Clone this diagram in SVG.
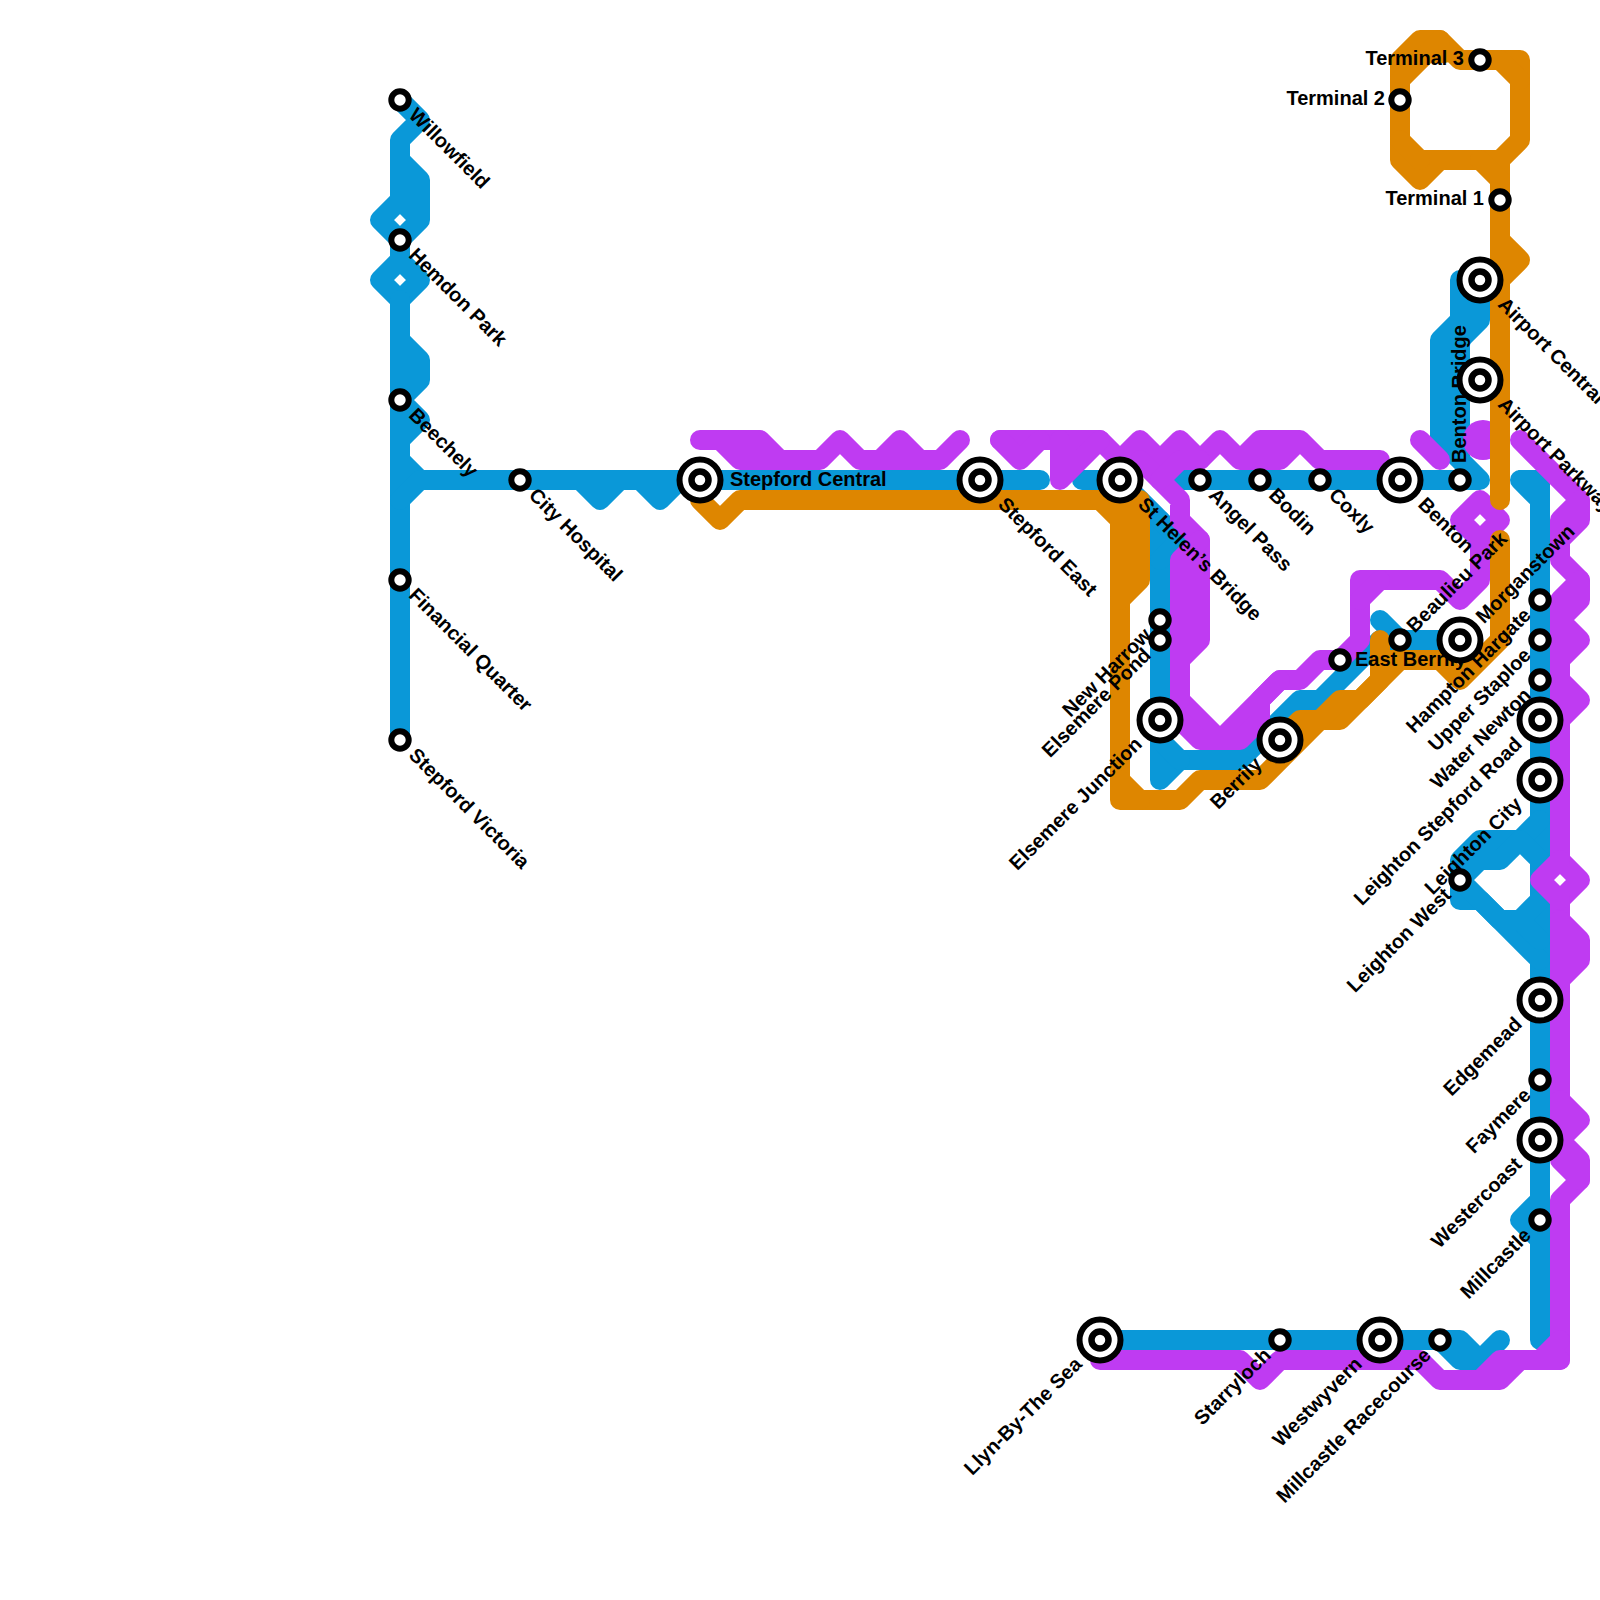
<svg xmlns="http://www.w3.org/2000/svg" width="1600" height="1600" viewBox="0 0 1600 1600">
<style>
.l{fill:none;stroke-width:20;stroke-linecap:round;stroke-linejoin:round}
.b{stroke:#0a98d8}.o{stroke:#de8600}.p{stroke:#bf3bf2}
.s{fill:#fff;stroke:#000;stroke-width:6}
.r{fill:#fff;stroke:#000;stroke-width:6}
.i{fill:#fff;stroke:#000;stroke-width:6.5}
text{font-family:"Liberation Sans",Arial,sans-serif;font-weight:700;font-size:20px;fill:#000}
.e{text-anchor:end}
</style>
<rect width="1600" height="1600" fill="#fff"/>
<g id="connectors">
<g id="line-blue" class="l b">
<path d="M400 100L420 120L400 140V200L380 220L400 240L420 220V180L400 160M400 200L420 220"/>
<path d="M400 240V260L380 280L400 300L420 280L400 260"/>
<path d="M400 300V740M400 340L420 360V380L400 400L420 420L400 440M400 460L420 480"/>
<path d="M400 500L420 480H1040M580 480L600 500L620 480M640 480L660 500L680 480"/>
<path d="M1082 480H1120L1160 520V780L1180 760H1240L1300 700H1320L1380 640H1460"/>
<path d="M1160 740L1180 760M1160 520L1180 540L1160 560M1380 620L1400 640"/>
<path d="M1180 480H1480L1440 440V340L1460 320V280H1480V320L1460 340V460"/>
<path d="M1520 480H1540V1340M1520 480L1540 500M1540 1200L1520 1220L1540 1240"/>
<path d="M1540 820L1520 840H1480L1460 860V900H1480L1540 960"/>
<path d="M1460 880L1480 860H1500L1520 840M1520 840L1540 860M1460 880L1500 920H1520L1540 900M1520 920L1540 940"/>
<path d="M1100 1340H1460L1480 1360L1500 1340M1440 1340L1460 1360H1480"/>
</g>
<g id="line-purple" class="l p">
<path d="M700 440H760L780 460H820L840 440L860 460H940L960 440M720 440L740 460H780M880 460L900 440L920 460"/>
<path d="M1000 440H1100L1120 460L1140 440L1160 460L1180 440L1200 460L1220 440L1240 460L1260 440H1300L1320 460H1380M1240 460H1280L1300 440"/>
<path d="M1000 440L1020 460L1040 440M1060 440V480L1100 440M1060 460H1080"/>
<path d="M1140 460L1180 500V520L1200 540V640L1180 660V700L1220 740L1280 680H1300L1320 660H1340L1360 640V580H1440L1460 600L1480 580V540L1460 520L1480 500L1500 520L1480 540"/>
<path d="M1200 540L1180 560V700M1180 720L1200 740H1240L1260 720V700L1280 680M1360 600L1380 580M1160 480L1180 460H1200"/>
<path d="M1420 440L1440 460"/>
<circle cx="1483" cy="440" r="20" fill="#bf3bf2" stroke="none"/>
<path d="M1520 440L1580 500V520L1560 540V560L1580 580V600L1560 620L1580 640L1560 660V680L1580 700L1560 720V860L1580 880L1560 900V920L1580 940V960L1560 980V1100L1580 1120L1560 1140L1580 1160V1180L1560 1200V1360"/>
<path d="M1580 500L1560 520V540M1580 580L1560 600V720M1560 860L1540 880L1560 900M1560 920V980M1560 1100V1160L1580 1180"/>
<path d="M1100 1360H1240L1260 1380L1280 1360H1420L1440 1380H1500L1520 1360H1560M1480 1380L1500 1360H1520M1540 1360L1560 1340"/>
</g>
<g id="line-orange" class="l o">
<path d="M700 500L720 520L740 500H1100L1120 520V800H1180L1200 780H1260L1320 720H1340L1400 660H1440L1460 680L1500 640V540"/>
<path d="M1100 500H1140V580L1120 600M1120 780L1140 800M1130 510V590"/>
<path d="M1280 740L1300 720H1320L1340 700H1360L1380 680V640M1380 660H1400"/>
<path d="M1500 500V280L1520 260L1500 240V160L1520 140V60H1460L1440 40H1420L1400 60V160L1420 180L1440 160H1500M1500 240V280M1400 160H1440"/>
<path d="M1400 80L1440 40M1400 140L1420 160M1480 160L1500 180M1500 60L1520 80M1431 53H1445"/>
</g>
</g>
<g id="n-willowfield"><circle class="s" cx="400" cy="100" r="8.7"/><text transform="translate(400 100) rotate(45)" x="17" y="6">Willowfield</text></g>
<g id="n-hemdon-park"><circle class="s" cx="400" cy="240" r="8.7"/><text transform="translate(400 240) rotate(45)" x="17" y="6">Hemdon Park</text></g>
<g id="n-beechely"><circle class="s" cx="400" cy="400" r="8.7"/><text transform="translate(400 400) rotate(45)" x="17" y="6">Beechely</text></g>
<g id="n-financial-quarter"><circle class="s" cx="400" cy="580" r="8.7"/><text transform="translate(400 580) rotate(45)" x="17" y="6">Financial Quarter</text></g>
<g id="n-stepford-victoria"><circle class="s" cx="400" cy="740" r="8.7"/><text transform="translate(400 740) rotate(45)" x="17" y="6">Stepford Victoria</text></g>
<g id="n-city-hospital"><circle class="s" cx="520" cy="480" r="8.7"/><text transform="translate(520 480) rotate(45)" x="17" y="6">City Hospital</text></g>
<g id="n-stepford-central"><circle class="r" cx="700" cy="480" r="20.5"/><circle class="i" cx="700" cy="480" r="8.5"/><text x="730" y="486">Stepford Central</text></g>
<g id="n-stepford-east"><circle class="r" cx="980" cy="480" r="20.5"/><circle class="i" cx="980" cy="480" r="8.5"/><text transform="translate(980 480) rotate(45)" x="30" y="6">Stepford East</text></g>
<g id="n-st-helens-bridge"><circle class="r" cx="1120" cy="480" r="20.5"/><circle class="i" cx="1120" cy="480" r="8.5"/><text transform="translate(1120 480) rotate(45)" x="30" y="6">St Helen’s Bridge</text></g>
<g id="n-angel-pass"><circle class="s" cx="1200" cy="480" r="8.7"/><text transform="translate(1200 480) rotate(45)" x="17" y="6">Angel Pass</text></g>
<g id="n-bodin"><circle class="s" cx="1260" cy="480" r="8.7"/><text transform="translate(1260 480) rotate(45)" x="17" y="6">Bodin</text></g>
<g id="n-coxly"><circle class="s" cx="1320" cy="480" r="8.7"/><text transform="translate(1320 480) rotate(45)" x="17" y="6">Coxly</text></g>
<g id="n-benton"><circle class="r" cx="1400" cy="480" r="20.5"/><circle class="i" cx="1400" cy="480" r="8.5"/><text transform="translate(1400 480) rotate(45)" x="30" y="6">Benton</text></g>
<g id="n-benton-bridge"><circle class="s" cx="1460" cy="480" r="8.7"/><text transform="translate(1460 480) rotate(-90)" x="17" y="6">Benton Bridge</text></g>
<g id="n-airport-central"><circle class="r" cx="1480" cy="280" r="20.5"/><circle class="i" cx="1480" cy="280" r="8.5"/><text transform="translate(1480 280) rotate(45)" x="30" y="6">Airport Central</text></g>
<g id="n-airport-parkway"><circle class="r" cx="1480" cy="380" r="20.5"/><circle class="i" cx="1480" cy="380" r="8.5"/><text transform="translate(1480 380) rotate(45)" x="30" y="6">Airport Parkway</text></g>
<g id="n-terminal-3"><circle class="s" cx="1480" cy="60" r="8.7"/><text class="e" x="1464" y="65">Terminal 3</text></g>
<g id="n-terminal-2"><circle class="s" cx="1400" cy="100" r="8.7"/><text class="e" x="1385" y="105">Terminal 2</text></g>
<g id="n-terminal-1"><circle class="s" cx="1500" cy="200" r="8.7"/><text class="e" x="1484" y="205">Terminal 1</text></g>
<g id="n-new-harrow"><circle class="s" cx="1160" cy="620" r="8.7"/><text class="e" transform="translate(1160 620) rotate(-45)" x="-17" y="6">New Harrow</text></g>
<g id="n-elsemere-pond"><circle class="s" cx="1160" cy="640" r="8.7"/><text class="e" transform="translate(1160 640) rotate(-45)" x="-17" y="6">Elsemere Pond</text></g>
<g id="n-elsemere-junction"><circle class="r" cx="1160" cy="720" r="20.5"/><circle class="i" cx="1160" cy="720" r="8.5"/><text class="e" transform="translate(1160 720) rotate(-45)" x="-30" y="6">Elsemere Junction</text></g>
<g id="n-berrily"><circle class="r" cx="1280" cy="740" r="20.5"/><circle class="i" cx="1280" cy="740" r="8.5"/><text class="e" transform="translate(1280 740) rotate(-45)" x="-30" y="6">Berrily</text></g>
<g id="n-east-berrily"><circle class="s" cx="1340" cy="660" r="8.7"/><text x="1355" y="666">East Berrily</text></g>
<g id="n-beaulieu-park"><circle class="s" cx="1400" cy="640" r="8.7"/><text transform="translate(1400 640) rotate(-45)" x="15" y="6">Beaulieu Park</text></g>
<g id="n-morganstown"><circle class="r" cx="1460" cy="640" r="20.5"/><circle class="i" cx="1460" cy="640" r="8.5"/><text transform="translate(1460 640) rotate(-45)" x="28" y="6">Morganstown</text></g>
<g id="n-hampton-hargate"><circle class="s" cx="1540" cy="600" r="8.7"/><text class="e" transform="translate(1540 600) rotate(-45)" x="-17" y="6">Hampton Hargate</text></g>
<g id="n-upper-staploe"><circle class="s" cx="1540" cy="640" r="8.7"/><text class="e" transform="translate(1540 640) rotate(-45)" x="-17" y="6">Upper Staploe</text></g>
<g id="n-water-newton"><circle class="s" cx="1540" cy="680" r="8.7"/><text class="e" transform="translate(1540 680) rotate(-45)" x="-17" y="6">Water Newton</text></g>
<g id="n-leighton-stepford-road"><circle class="r" cx="1540" cy="720" r="20.5"/><circle class="i" cx="1540" cy="720" r="8.5"/><text class="e" transform="translate(1540 720) rotate(-45)" x="-30" y="6">Leighton Stepford Road</text></g>
<g id="n-leighton-city"><circle class="r" cx="1540" cy="780" r="20.5"/><circle class="i" cx="1540" cy="780" r="8.5"/><text class="e" transform="translate(1540 780) rotate(-45)" x="-30" y="6">Leighton City</text></g>
<g id="n-leighton-west"><circle class="s" cx="1460" cy="880" r="8.7"/><text class="e" transform="translate(1460 880) rotate(-45)" x="-17" y="6">Leighton West</text></g>
<g id="n-edgemead"><circle class="r" cx="1540" cy="1000" r="20.5"/><circle class="i" cx="1540" cy="1000" r="8.5"/><text class="e" transform="translate(1540 1000) rotate(-45)" x="-30" y="6">Edgemead</text></g>
<g id="n-faymere"><circle class="s" cx="1540" cy="1080" r="8.7"/><text class="e" transform="translate(1540 1080) rotate(-45)" x="-17" y="6">Faymere</text></g>
<g id="n-westercoast"><circle class="r" cx="1540" cy="1140" r="20.5"/><circle class="i" cx="1540" cy="1140" r="8.5"/><text class="e" transform="translate(1540 1140) rotate(-45)" x="-30" y="6">Westercoast</text></g>
<g id="n-millcastle"><circle class="s" cx="1540" cy="1220" r="8.7"/><text class="e" transform="translate(1540 1220) rotate(-45)" x="-17" y="6">Millcastle</text></g>
<g id="n-llyn-by-the-sea"><circle class="r" cx="1100" cy="1340" r="20.5"/><circle class="i" cx="1100" cy="1340" r="8.5"/><text class="e" transform="translate(1100 1340) rotate(-45)" x="-30" y="6">Llyn-By-The Sea</text></g>
<g id="n-starryloch"><circle class="s" cx="1280" cy="1340" r="8.7"/><text class="e" transform="translate(1280 1340) rotate(-45)" x="-17" y="6">Starryloch</text></g>
<g id="n-westwyvern"><circle class="r" cx="1380" cy="1340" r="20.5"/><circle class="i" cx="1380" cy="1340" r="8.5"/><text class="e" transform="translate(1380 1340) rotate(-45)" x="-30" y="6">Westwyvern</text></g>
<g id="n-millcastle-racecourse"><circle class="s" cx="1440" cy="1340" r="8.7"/><text class="e" transform="translate(1440 1340) rotate(-45)" x="-17" y="6">Millcastle Racecourse</text></g>
</svg>
